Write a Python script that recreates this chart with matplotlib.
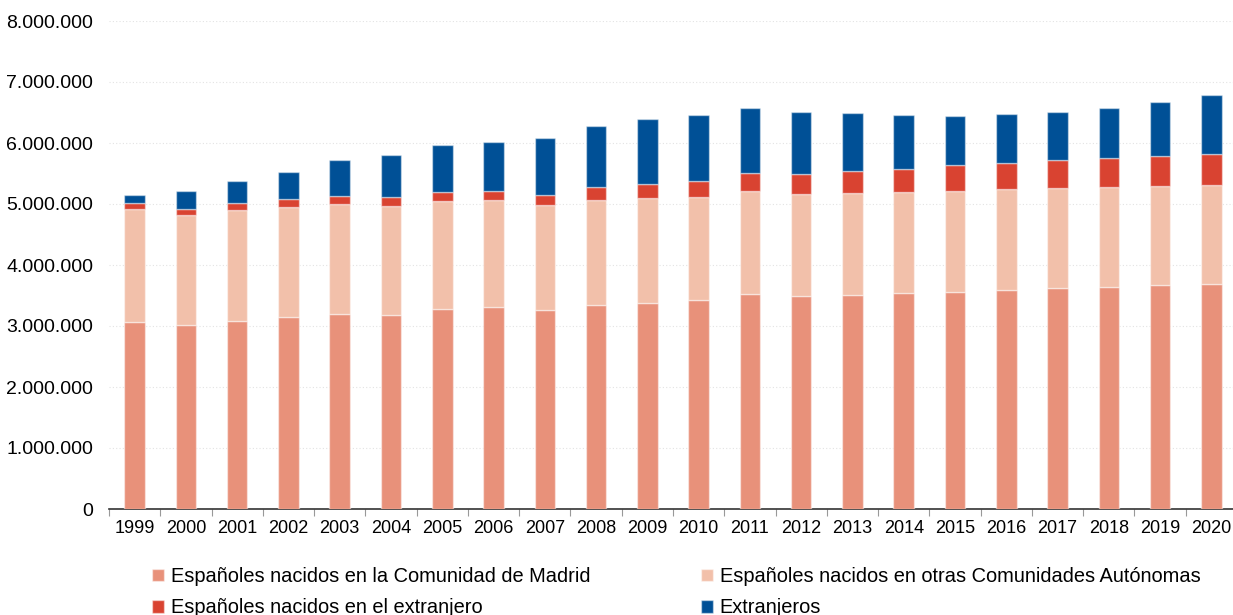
import matplotlib
matplotlib.use("Agg")
import matplotlib.pyplot as plt
import numpy as np
from matplotlib.ticker import FuncFormatter, FixedLocator

years = [str(y) for y in range(1999, 2021)]

# values in millions of people
madrid = [3.071, 3.022, 3.087, 3.153, 3.202, 3.186, 3.273, 3.311, 3.268, 3.349, 3.382,
          3.426, 3.530, 3.497, 3.513, 3.536, 3.563, 3.596, 3.628, 3.645, 3.672, 3.693]
otras = [1.842, 1.798, 1.809, 1.803, 1.793, 1.776, 1.771, 1.755, 1.710, 1.717, 1.711,
         1.694, 1.689, 1.673, 1.673, 1.661, 1.650, 1.644, 1.634, 1.634, 1.618, 1.613]
esp_extranjero = [0.103, 0.098, 0.120, 0.126, 0.136, 0.147, 0.147, 0.147, 0.170, 0.207, 0.229,
                  0.262, 0.284, 0.316, 0.355, 0.382, 0.426, 0.437, 0.454, 0.470, 0.491, 0.519]
extranjeros = [0.132, 0.290, 0.361, 0.448, 0.590, 0.700, 0.776, 0.798, 0.939, 1.006, 1.071,
               1.077, 1.065, 1.017, 0.956, 0.874, 0.798, 0.793, 0.792, 0.830, 0.886, 0.956]

labels = ["Españoles nacidos en la Comunidad de Madrid",
          "Españoles nacidos en otras Comunidades Autónomas",
          "Españoles nacidos en el extranjero",
          "Extranjeros"]
colors = ["#E8917A", "#F2C0AA", "#D94331", "#005096"]

plt.rcParams['font.family'] = ['Liberation Sans', 'DejaVu Sans']

fig = plt.figure(figsize=(12.33, 6.15), dpi=100)
ax = fig.add_axes([109 / 1233, 1 - 509 / 615, 1128 / 1233, (509 - 21) / 615])

x = np.arange(len(years))
m = np.array(madrid) * 1e6
o = np.array(otras) * 1e6
e = np.array(esp_extranjero) * 1e6
f = np.array(extranjeros) * 1e6

w = 0.4
edge = (1, 1, 1, 0.45)
bars = []
bars.append(ax.bar(x, m, w, color=colors[0], edgecolor=edge, linewidth=1, label=labels[0], zorder=3))
bars.append(ax.bar(x, o, w, bottom=m, color=colors[1], edgecolor=edge, linewidth=1, label=labels[1], zorder=3))
bars.append(ax.bar(x, e, w, bottom=m + o, color=colors[2], edgecolor=edge, linewidth=1, label=labels[2], zorder=3))
bars.append(ax.bar(x, f, w, bottom=m + o + e, color=colors[3], edgecolor=edge, linewidth=1, label=labels[3], zorder=3))

ax.set_xlim(-0.5, len(years) - 0.5)
ax.set_ylim(0, 8e6)
ax.set_yticks(np.arange(0, 8e6 + 1, 1e6))
ax.yaxis.set_major_formatter(FuncFormatter(lambda v, p: f"{int(v):,}".replace(",", ".")))
ax.tick_params(axis='y', length=0, labelsize=14, pad=11.5, colors='#000000')
ax.grid(axis='y', color='#e3e3e3', linestyle=(0, (1, 2)), linewidth=0.8, zorder=0)

ax.set_xticks(x)
ax.set_xticklabels(years)
ax.tick_params(axis='x', length=0, labelsize=13, pad=8)
ax.xaxis.set_minor_locator(FixedLocator(np.arange(-0.5, len(years), 1.0)))
ax.tick_params(axis='x', which='minor', length=5, color='#999999', width=0.8)

for s in ['top', 'right', 'left']:
    ax.spines[s].set_visible(False)
ax.spines['bottom'].set_color('#333333')
ax.spines['bottom'].set_linewidth(1.2)

handles = [bars[0], bars[2], bars[1], bars[3]]
hl = [labels[0], labels[2], labels[1], labels[3]]
fig.legend(handles, hl, ncol=2, loc='upper left', bbox_to_anchor=(152 / 1233, 1 - 567 / 615),
           frameon=False, fontsize=14.4, handlelength=0.6, handleheight=0.6, handletextpad=0.35,
           columnspacing=5.5, labelspacing=0.62, borderaxespad=0, borderpad=0)

fig.savefig("out.png", dpi=100)
